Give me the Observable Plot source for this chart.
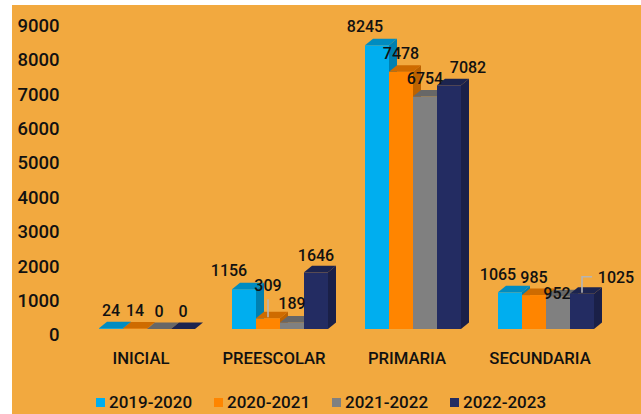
<!DOCTYPE html>
<html><head><meta charset="utf-8">
<script src="https://cdn.jsdelivr.net/npm/d3@7"></script>
<script src="https://cdn.jsdelivr.net/npm/@observablehq/plot@0.6"></script>
<style>
html,body{margin:0;padding:0;background:#fff;}
#wrap{position:absolute;left:12px;top:5px;width:629px;height:409px;background:#F2A93F;font-family:Roboto,sans-serif;overflow:hidden;}
#chart{position:absolute;left:0;top:0;}
.item{position:absolute;top:386px;height:22px;display:flex;align-items:center;font-size:17px;font-weight:500;color:#111;white-space:nowrap;}
.sw{width:9px;height:9px;margin-right:4px;}
</style></head>
<body><div id="wrap"><div id="chart"></div><div id="legend"></div></div>
<script>
// ---- data ----
const categories = ["INICIAL", "PREESCOLAR", "PRIMARIA", "SECUNDARIA"];
const seriesNames = ["2019-2020", "2020-2021", "2021-2022", "2022-2023"];
const values2019 = [24, 1156, 8245, 1065];
const values2020 = [14, 309, 7478, 985];
const values2021 = [0, 189, 6754, 952];
const values2022 = [0, 1646, 7082, 1025];
const yTicks = [0, 1000, 2000, 3000, 4000, 5000, 6000, 7000, 8000, 9000];

// ---- styles / layout ----
const colors = ["#00AEEF", "#FF8500", "#808080", "#232C62"];
const DX = 8, DY = 6.5;
const labelOffsets = {
  "PREESCOLAR|2019-2020": [-15, -19],
  "PREESCOLAR|2020-2021": [0, -33],
  "PREESCOLAR|2021-2022": [0, -19.5],
  "PREESCOLAR|2022-2023": [0, -17],
  "PRIMARIA|2019-2020": [-12, -19],
  "PRIMARIA|2022-2023": [19, -18],
  "SECUNDARIA|2019-2020": [-12, -18],
  "SECUNDARIA|2021-2022": [-1, -3],
  "SECUNDARIA|2022-2023": [34, -16]
};
const leaders = {
  "PREESCOLAR|2020-2021": [[0, -1], [0, -19]],
  "SECUNDARIA|2022-2023": [[0, -1], [0, -17], [10, -17]]
};

const allValues = [values2019, values2020, values2021, values2022];
const data = [];
categories.forEach((c, ci) => seriesNames.forEach((s, si) => data.push({category: c, series: s, value: allValues[si][ci]})));

function colorOf(scales, d) {
  const j = seriesNames.indexOf(d.series);
  return d3.color(scales.color ? scales.color(d.series) : colors[j]);
}

function render3d(index, scales) {
  const g = d3.create("svg:g");
  const bw = scales.x.bandwidth() / seriesNames.length;
  const yb = scales.y(0);
  const idx = Array.from(index).sort((a, b) =>
    categories.indexOf(data[a].category) - categories.indexOf(data[b].category) ||
    seriesNames.indexOf(data[a].series) - seriesNames.indexOf(data[b].series));
  for (const i of idx) {
    const d = data[i];
    const j = seriesNames.indexOf(d.series);
    const x1 = scales.x(d.category) + j * bw, x2 = x1 + bw;
    const yt = scales.y(d.value);
    const c = colorOf(scales, d);
    g.append("rect").attr("x", x1).attr("y", yt).attr("width", bw).attr("height", Math.max(0, yb - yt)).attr("fill", c.formatHex());
    g.append("polygon").attr("points", [[x2, yt], [x2 + DX, yt - DY], [x2 + DX, yb - DY], [x2, yb]].join(" ")).attr("fill", c.darker(0.85).formatHex());
    g.append("polygon").attr("points", [[x1, yt], [x2, yt], [x2 + DX, yt - DY], [x1 + DX, yt - DY]].join(" ")).attr("fill", c.darker(0.6).formatHex());
  }
  return g.node();
}

function renderLabels(index, scales) {
  const g = d3.create("svg:g")
    .attr("font-family", "Roboto, sans-serif").attr("font-size", 16).attr("font-weight", 500)
    .attr("fill", "#111").attr("text-anchor", "middle");
  const bw = scales.x.bandwidth() / seriesNames.length;
  for (const i of index) {
    const d = data[i];
    const j = seriesNames.indexOf(d.series);
    const cx = scales.x(d.category) + j * bw + bw / 2;
    const yt = scales.y(d.value);
    const key = d.category + "|" + d.series;
    const [ox, oy] = labelOffsets[key] || [0, -18];
    if (leaders[key]) {
      g.append("path").attr("d", "M" + leaders[key].map(([a, b]) => [cx + a, yt + b]).join("L"))
        .attr("fill", "none").attr("stroke", "#b5b5b5").attr("stroke-width", 1.6);
    }
    g.append("text").attr("x", cx + ox).attr("y", yt + oy).attr("dy", "0.35em").text(String(d.value));
  }
  return g.node();
}

const chart = Plot.plot({
  width: 629,
  height: 370,
  marginLeft: 50,
  marginRight: 10,
  marginTop: 14.3,
  marginBottom: 46,
  style: {background: "transparent", fontFamily: "Roboto, sans-serif", color: "#111", overflow: "visible"},
  x: {domain: categories, paddingInner: 0.278, paddingOuter: 0.278, axis: null},
  y: {domain: [0, 9000], axis: null},
  color: {domain: seriesNames, range: colors},
  marks: [
    Plot.axisY({ticks: yTicks, tickSize: 0, tickPadding: 3, tickFormat: d3.format("d"), fontSize: 18.5, fontWeight: 500, dy: 6, label: null}),
    Plot.axisX({tickSize: 0, tickPadding: 23, dx: -6.5, fontSize: 16.7, fontWeight: 500, label: null}),
    Plot.barY(data, {x: "category", y: "value", fill: "series", render: render3d}),
    Plot.text(data, {x: "category", y: "value", text: d => String(d.value), render: renderLabels})
  ]
});
document.getElementById("chart").append(chart);

const legend = document.getElementById("legend");
seriesNames.forEach((s, i) => {
  const item = document.createElement("div");
  item.className = "item";
  item.style.left = (84 + i * 118) + "px";
  const sw = document.createElement("span");
  sw.className = "sw";
  sw.style.background = colors[i];
  const t = document.createElement("span");
  t.textContent = s;
  item.append(sw, t);
  legend.append(item);
});
</script>
</body></html>
